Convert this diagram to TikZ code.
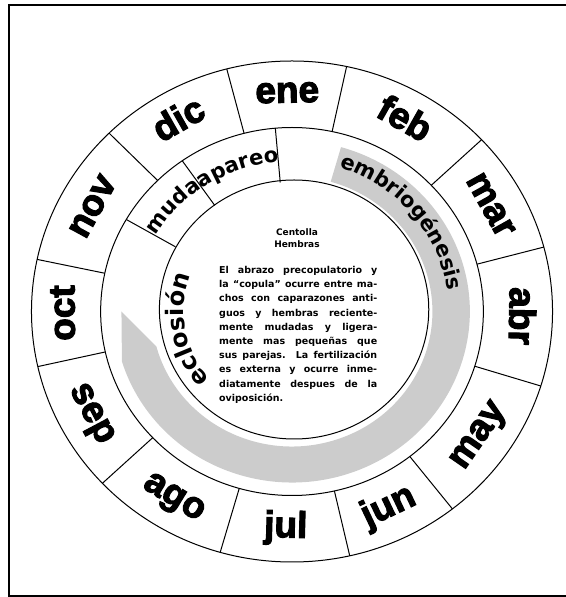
\documentclass[tikz,border=0pt]{standalone}
\usepackage{fontspec}
\setmainfont{Liberation Sans}
\newfontfamily\monthfont[FakeBold=3]{Liberation Sans Bold}
\newfontfamily\phasefont{DejaVu Sans Bold}
\usetikzlibrary{decorations.text}

\tikzset{
  ring/.style={line width=1pt},
  monthlbl/.style={font=\monthfont\fontsize{37}{37}\selectfont, inner sep=0pt, anchor=base},
  phaselbl/.style={decorate, decoration={text along path, text align=center,
      text={|\phasefont\fontsize{21}{21}\selectfont|#1}}},
  bandgray/.style={fill=black!20},
}

\begin{document}
\begin{tikzpicture}[x=1pt,y=1pt]
  \useasboundingbox (0,0) rectangle (565,597);
  \draw[line width=1.3pt] (9,1) rectangle (600,592);

  \begin{scope}[shift={(292,285.5)},xscale=1.04]
    % stippled arrow band, clockwise from embriogenesis to eclosion
    \fill[bandgray] (74:171) arc[start angle=74, end angle=-163, radius=171]
      -- (-180:164) -- (-165:135) arc[start angle=-165, end angle=74, radius=135] -- cycle;

    \draw[ring] (0,0) circle (250.5);
    \draw[ring] (0,0) circle (184);
    \draw[ring] (2,2) circle (129.5);

    % month cells
    \foreach \a in {14.9,43.3,77.9,104.5,134.6,168,192.7,223.3,254,282.8,308,342.7}
      \draw[ring] (\a:184) -- (\a:250.5);
    % phase cells
    \foreach \a in {95,125,150}
      \draw[ring] (\a:129.5) -- (\a:184);

    \foreach \a/\m/\r/\rb in {91.2/ene/1.2/209, 60.6/feb/-29.4/209, 29.1/mar/-60.9/209,
        -1.2/abr/-91.2/209, -34.7/may/55.3/226, -64.6/jun/25.4/226, -91.6/jul/-1.6/226,
        -121.3/ago/-31.3/226, -152/sep/-62/226, 180.4/oct/90.4/209, 151.3/nov/61.3/209,
        119.6/dic/29.6/209}
      \node[monthlbl, rotate=\r] (m-\m) at (\a:\rb) {\m};

    \path[phaselbl=muda] (150:151) arc[start angle=150, end angle=125, radius=151];
    \path[phaselbl=apareo] (125:150) arc[start angle=125, end angle=95, radius=150];
    \path[phaselbl=embriogénesis] (80:151) arc[start angle=80, end angle=0, radius=151];
    \path[decorate, decoration={text along path, text align=center,
        text={|\phasefont\fontsize{24}{24}\selectfont|eclosión}}]
      (230:104) arc[start angle=230, end angle=150, radius=104];
  \end{scope}

  \node[font=\phasefont\fontsize{9}{12}\selectfont, align=center, inner sep=0pt, anchor=north]
    (title) at (297,369) {Centolla\\Hembras};
  \node[font=\phasefont\fontsize{9.5}{14.2}\selectfont, text width=158pt, align=justify,
    inner sep=0pt, anchor=north west] (body) at (219,331)
    {\hyphenpenalty=10000 El abrazo precopulatorio y\linebreak la “copula” ocurre entre ma-\linebreak
     chos con caparazones anti-\linebreak guos y hembras reciente-\linebreak
     mente mudadas y ligera-\linebreak mente mas pequeñas que\linebreak
     sus parejas. La fertilización\linebreak es externa y ocurre inme-\linebreak
     diatamente despues de la\linebreak oviposición.};
\end{tikzpicture}
\end{document}
